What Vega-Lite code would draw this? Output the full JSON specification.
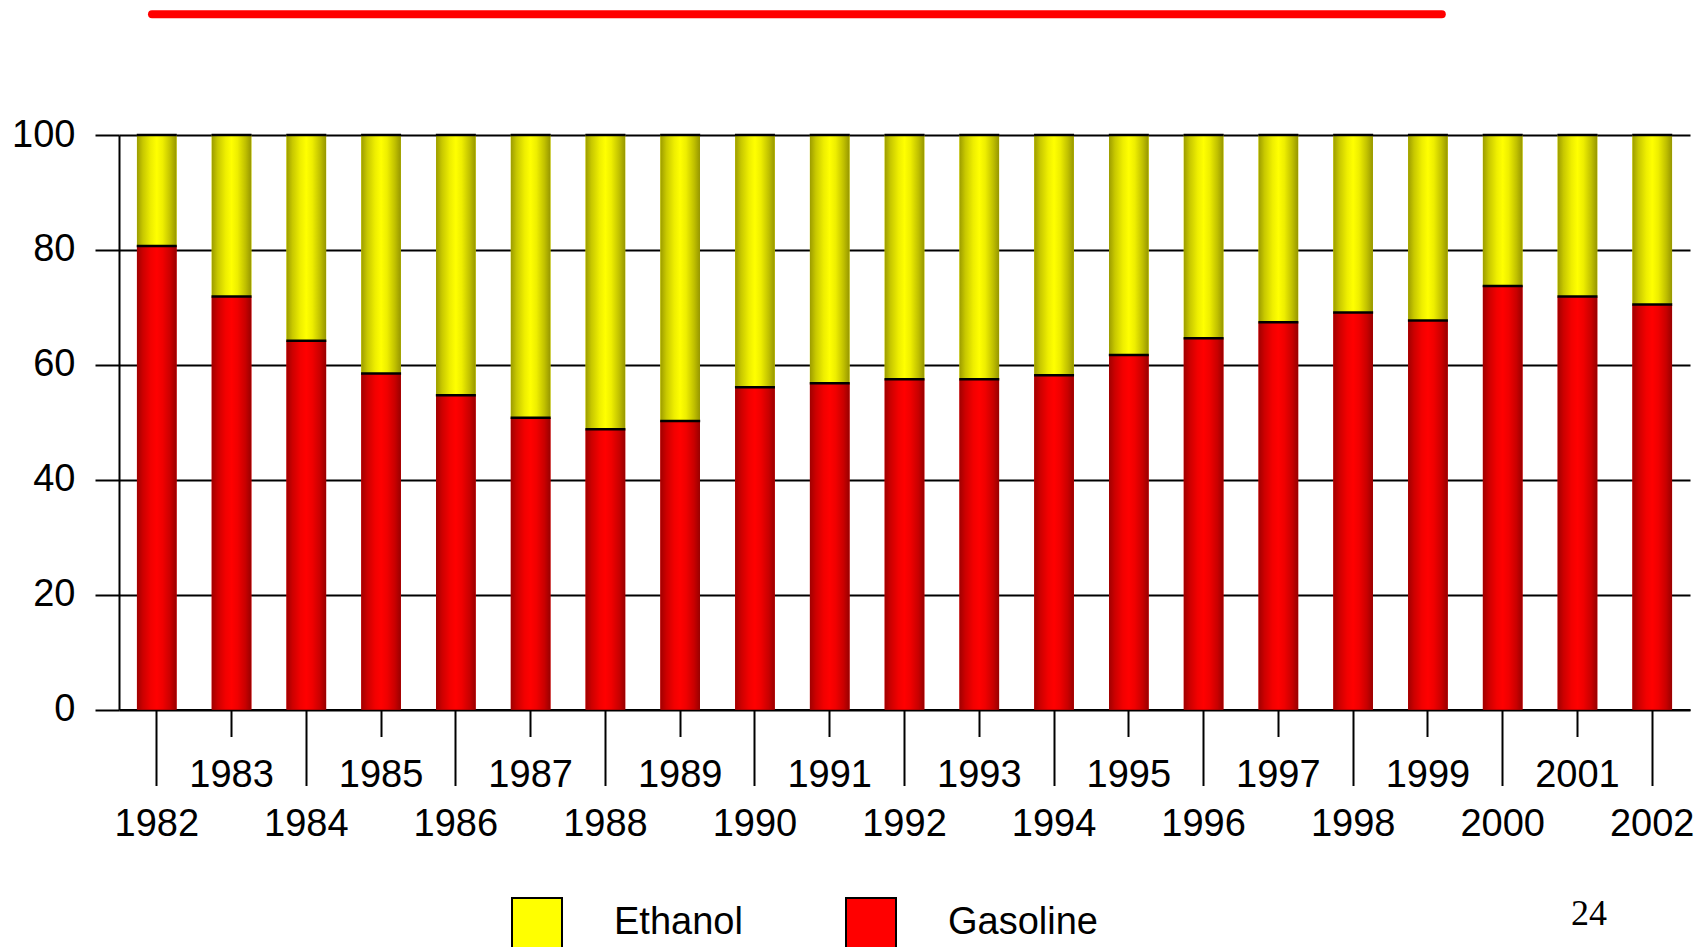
{
  "$schema": "https://vega.github.io/schema/vega-lite/v6.json",
  "autosize": {"type": "none"},
  "width": 1571,
  "height": 574.5,
  "padding": {"left": 119, "top": 135, "right": 18, "bottom": 237.5},
  "background": "white",
  "config": {"view": {"stroke": null}, "font": "Liberation Sans"},
  "title": {"text": "24", "orient": "bottom", "anchor": "end", "frame": "group", "font": "Liberation Serif", "fontSize": 36, "fontWeight": "normal", "color": "black", "baseline": "alphabetic", "offset": -27, "dx": -83},
  "data": {"values": [
    {"year": 1982, "fuel": "Gasoline", "value": 80.7}, {"year": 1982, "fuel": "Ethanol", "value": 19.3},
    {"year": 1983, "fuel": "Gasoline", "value": 71.9}, {"year": 1983, "fuel": "Ethanol", "value": 28.1},
    {"year": 1984, "fuel": "Gasoline", "value": 64.2}, {"year": 1984, "fuel": "Ethanol", "value": 35.8},
    {"year": 1985, "fuel": "Gasoline", "value": 58.5}, {"year": 1985, "fuel": "Ethanol", "value": 41.5},
    {"year": 1986, "fuel": "Gasoline", "value": 54.7}, {"year": 1986, "fuel": "Ethanol", "value": 45.3},
    {"year": 1987, "fuel": "Gasoline", "value": 50.8}, {"year": 1987, "fuel": "Ethanol", "value": 49.2},
    {"year": 1988, "fuel": "Gasoline", "value": 48.8}, {"year": 1988, "fuel": "Ethanol", "value": 51.2},
    {"year": 1989, "fuel": "Gasoline", "value": 50.2}, {"year": 1989, "fuel": "Ethanol", "value": 49.8},
    {"year": 1990, "fuel": "Gasoline", "value": 56.1}, {"year": 1990, "fuel": "Ethanol", "value": 43.9},
    {"year": 1991, "fuel": "Gasoline", "value": 56.8}, {"year": 1991, "fuel": "Ethanol", "value": 43.2},
    {"year": 1992, "fuel": "Gasoline", "value": 57.5}, {"year": 1992, "fuel": "Ethanol", "value": 42.5},
    {"year": 1993, "fuel": "Gasoline", "value": 57.5}, {"year": 1993, "fuel": "Ethanol", "value": 42.5},
    {"year": 1994, "fuel": "Gasoline", "value": 58.2}, {"year": 1994, "fuel": "Ethanol", "value": 41.8},
    {"year": 1995, "fuel": "Gasoline", "value": 61.7}, {"year": 1995, "fuel": "Ethanol", "value": 38.3},
    {"year": 1996, "fuel": "Gasoline", "value": 64.6}, {"year": 1996, "fuel": "Ethanol", "value": 35.4},
    {"year": 1997, "fuel": "Gasoline", "value": 67.4}, {"year": 1997, "fuel": "Ethanol", "value": 32.6},
    {"year": 1998, "fuel": "Gasoline", "value": 69.1}, {"year": 1998, "fuel": "Ethanol", "value": 30.9},
    {"year": 1999, "fuel": "Gasoline", "value": 67.7}, {"year": 1999, "fuel": "Ethanol", "value": 32.3},
    {"year": 2000, "fuel": "Gasoline", "value": 73.7}, {"year": 2000, "fuel": "Ethanol", "value": 26.3},
    {"year": 2001, "fuel": "Gasoline", "value": 71.9}, {"year": 2001, "fuel": "Ethanol", "value": 28.1},
    {"year": 2002, "fuel": "Gasoline", "value": 70.5}, {"year": 2002, "fuel": "Ethanol", "value": 29.5}
  ]},
  "layer": [
    {
      "transform": [{"stack": "value", "groupby": ["year"], "sort": [{"field": "fuel", "order": "descending"}], "as": ["v0", "v1"]}],
      "encoding": {
        "x": {"field": "year", "type": "ordinal", "scale": {"paddingInner": 0.47, "paddingOuter": 0.24},
          "axis": {"title": null, "grid": false, "domain": true, "domainColor": "black", "domainWidth": 2,
            "ticks": true, "tickColor": "black", "tickWidth": 2,
            "tickSize": {"condition": {"test": "datum.value % 2 == 0", "value": 76}, "value": 27},
            "labelPadding": 20, "labelFontSize": 38, "labelFont": "Liberation Sans", "labelColor": "black",
            "labelAngle": 0, "labelBaseline": "top", "labelOverlap": false}},
        "y": {"field": "v1", "type": "quantitative", "scale": {"domain": [0, 100], "nice": false},
          "axis": {"title": null, "values": [0, 20, 40, 60, 80, 100], "grid": true, "gridColor": "black", "gridWidth": 2, "gridOpacity": 1,
            "domain": true, "domainColor": "black", "domainWidth": 2, "ticks": true, "tickColor": "black", "tickWidth": 2, "tickSize": 24,
            "labelFont": "Liberation Sans", "labelFontSize": 38, "labelColor": "black", "labelPadding": 20}}
      },
      "layer": [
        {"mark": {"type": "bar"},
         "encoding": {"y2": {"field": "v0"},
           "color": {"field": "fuel", "type": "nominal", "scale": {"domain": ["Ethanol", "Gasoline"], "range": ["#ffff00", "#ff0000"]},
             "legend": {"title": null, "orient": "none", "legendX": 392, "legendY": 762, "direction": "horizontal",
               "symbolType": "square", "symbolSize": 2500, "symbolStrokeColor": "black", "symbolStrokeWidth": 2, "symbolOpacity": 1,
               "labelFontSize": 38, "labelFont": "Liberation Sans", "labelColor": "black", "labelOffset": 51,
               "columnPadding": 99, "padding": 0, "labelLimit": 0}}}},
        {"transform": [{"filter": "datum.fuel == 'Gasoline'"}],
         "mark": {"type": "bar", "fill": {"gradient": "linear", "x1": 0, "y1": 0, "x2": 1, "y2": 0, "stops": [
            {"offset": 0, "color": "#a00000"}, {"offset": 0.15, "color": "#cc0000"}, {"offset": 0.35, "color": "#f20000"},
            {"offset": 0.5, "color": "#ff0000"}, {"offset": 0.65, "color": "#f00000"}, {"offset": 0.85, "color": "#c80000"}, {"offset": 1, "color": "#980000"}]}},
         "encoding": {"y2": {"field": "v0"}}},
        {"transform": [{"filter": "datum.fuel == 'Ethanol'"}],
         "mark": {"type": "bar", "fill": {"gradient": "linear", "x1": 0, "y1": 0, "x2": 1, "y2": 0, "stops": [
            {"offset": 0, "color": "#9c9c00"}, {"offset": 0.15, "color": "#c8c800"}, {"offset": 0.35, "color": "#eeee00"},
            {"offset": 0.5, "color": "#ffff00"}, {"offset": 0.65, "color": "#eeee00"}, {"offset": 0.85, "color": "#c0c000"}, {"offset": 1, "color": "#969600"}]}},
         "encoding": {"y2": {"field": "v0"}}},
        {"mark": {"type": "tick", "color": "black", "thickness": 2.5, "size": 40, "opacity": 1}}
      ]
    },
    {
      "data": {"values": [{"line": "top"}]},
      "mark": {"type": "rule", "color": "#ff0000", "strokeWidth": 8, "strokeCap": "round"},
      "encoding": {
        "x": {"datum": 0.021, "type": "quantitative", "scale": {"domain": [0, 1]}, "axis": null},
        "x2": {"datum": 0.842},
        "y": {"datum": 121, "type": "quantitative"}
      }
    }
  ],
  "resolve": {"scale": {"x": "independent"}}
}
